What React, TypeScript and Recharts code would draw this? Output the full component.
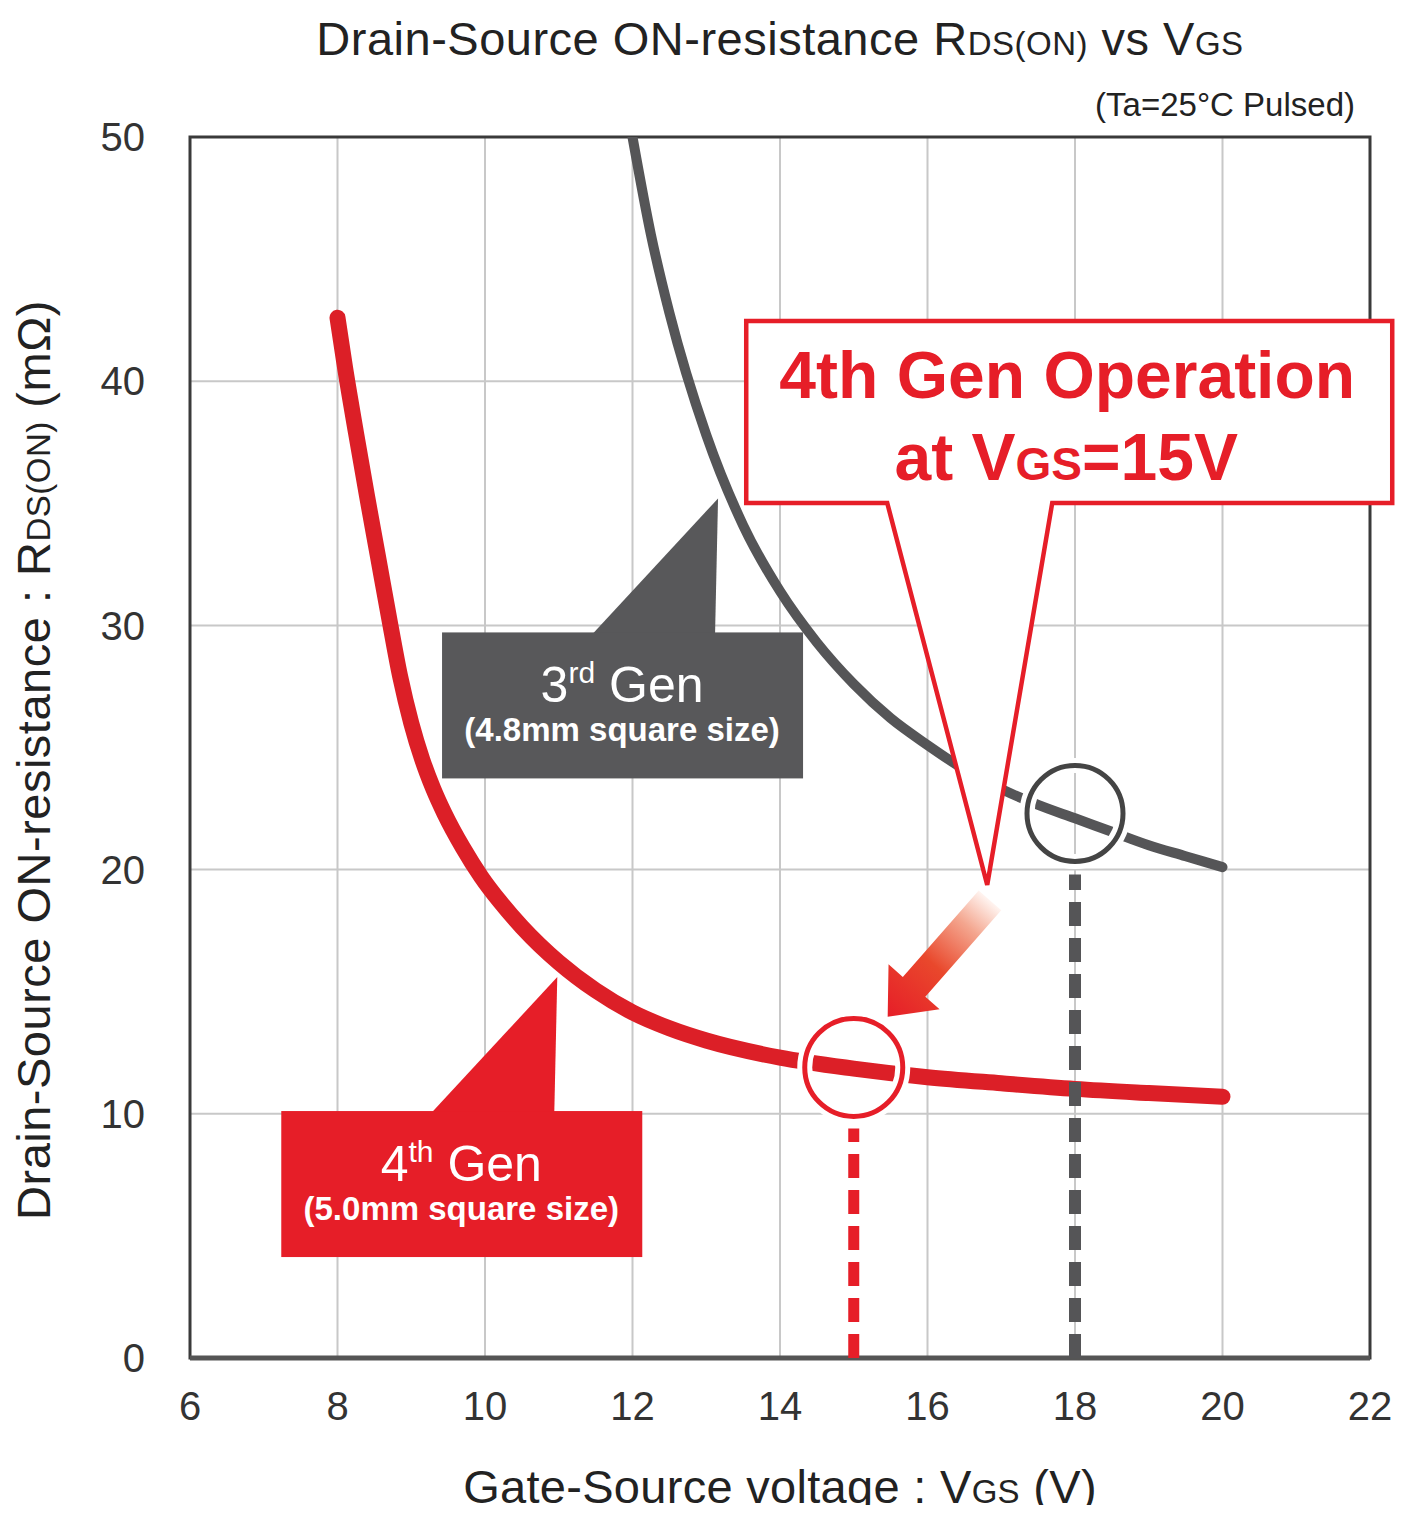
import React from "react";
import {
  LineChart,
  Line,
  XAxis,
  YAxis,
  CartesianGrid,
  ReferenceArea,
  ReferenceLine,
  ReferenceDot,
} from "recharts";

const FONT = '"Liberation Sans", Arial, Helvetica, sans-serif';
const RED = "#e61e28";
const GRAY = "#555557";

const X_TICKS = [6, 8, 10, 12, 14, 16, 18, 20, 22];
const Y_TICKS = [0, 10, 20, 30, 40, 50];

// 4th Gen (5.0mm square size)
const GEN4_VGS = [8, 8.1, 8.25, 8.4, 8.55, 8.7, 8.85, 9.0, 9.15, 9.3, 9.45, 9.7, 9.95, 10.2, 10.5, 11, 11.5, 12, 12.5, 13, 14, 15, 16, 17, 18, 19, 20];
const GEN4_RDS = [42.6, 40.6, 37.9, 35.3, 32.8, 30.3, 27.9, 26.0, 24.5, 23.3, 22.3, 20.9, 19.7, 18.7, 17.65, 16.2, 15.05, 14.15, 13.5, 13.0, 12.3, 11.85, 11.5, 11.25, 11.02, 10.85, 10.7];

// 3rd Gen (4.8mm square size)
const GEN3_VGS = [12, 12.25, 12.5, 13, 13.5, 14, 14.5, 15, 15.5, 16, 16.5, 17, 17.5, 18, 18.5, 19, 19.5, 20];
const GEN3_RDS = [50, 46.0, 42.8, 37.8, 34.1, 31.4, 29.3, 27.6, 26.2, 25.1, 24.1, 23.3, 22.65, 22.1, 21.55, 21.0, 20.55, 20.1];

// operating points
const OP_4TH = { v: 15, r: 11.9 };
const OP_3RD = { v: 18, r: 22.3 };

// where the callout pointers touch
const TIP_3RD = { v: 13.16, r: 35.2 };
const TIP_4TH = { v: 10.98, r: 15.6 };
const TIP_OP = { v: 16.81, r: 19.37 };
const TIP_ARROW = { v: 15.46, r: 13.97 };

const gen4 = GEN4_VGS.map((v, i) => ({ v, r: GEN4_RDS[i] }));
const gen3 = GEN3_VGS.map((v, i) => ({ v, r: GEN3_RDS[i] }));

type Pt = { cx?: number; cy?: number };

function TagCallout({ cx = 0, cy = 0, fill, num, sup, size }: Pt & { fill: string; num: string; sup: string; size: string }) {
  return (
    <g>
      <polygon points={`${cx},${cy} ${cx - 126},${cy + 136} ${cx - 3},${cy + 136}`} fill={fill} />
      <rect x={cx - 276} y={cy + 134} width={361} height={146} fill={fill} />
      <text x={cx - 96} y={cy + 204} textAnchor="middle" fill="#fff" fontFamily={FONT} fontSize={50}>
        {num}
        <tspan fontSize={30} dy={-19}>{sup}</tspan>
        <tspan dy={19}>{" Gen"}</tspan>
      </text>
      <text x={cx - 96} y={cy + 243} textAnchor="middle" fill="#fff" fontFamily={FONT} fontSize={33} fontWeight="bold">
        {size}
      </text>
    </g>
  );
}

function OperationCallout({ cx = 0, cy = 0 }: Pt) {
  const L = cx - 241;
  const R = cx + 405;
  const T = cy - 564;
  const B = cy - 382;
  const pts = [
    [L, T], [R, T], [R, B], [cx + 65, B], [cx, cy], [cx - 100, B], [L, B],
  ].map((p) => p.join(",")).join(" ");
  return (
    <g>
      <polygon points={pts} fill="#fff" stroke={RED} strokeWidth={4.5} />
      <text x={cx + 80} y={cy - 487} textAnchor="middle" fill={RED} fontFamily={FONT} fontSize={66} fontWeight="bold">
        4th Gen Operation
      </text>
      <text x={cx + 79} y={cy - 405} textAnchor="middle" fill={RED} fontFamily={FONT} fontSize={66} fontWeight="bold">
        at V<tspan fontSize={46}>GS</tspan>=15V
      </text>
    </g>
  );
}

function Ring({ cx = 0, cy = 0, color, r }: Pt & { color: string; r: number }) {
  return (
    <g>
      <circle cx={cx} cy={cy} r={r} fill="none" stroke="#fff" strokeWidth={15} />
      <circle cx={cx} cy={cy} r={r} fill="none" stroke={color} strokeWidth={5} />
    </g>
  );
}

function FadeArrow({ cx = 0, cy = 0 }: Pt) {
  const ux = 0.66, uy = -0.751, px = 0.751, py = 0.66;
  const head = 40, headHalf = 34, shaftHalf = 15, len = 155;
  const pt = (a: number, b: number) => [cx + ux * a + px * b, cy + uy * a + py * b];
  const poly = [
    pt(0, 0), pt(head, -headHalf), pt(head, -shaftHalf), pt(len, -shaftHalf),
    pt(len, shaftHalf), pt(head, shaftHalf), pt(head, headHalf),
  ].map((p) => p.join(",")).join(" ");
  const [tx, ty] = pt(len, 0);
  return (
    <g>
      <defs>
        <linearGradient id="arrowFade" gradientUnits="userSpaceOnUse" x1={tx} y1={ty} x2={cx} y2={cy}>
          <stop offset="0" stopColor="#fff4f0" />
          <stop offset="0.22" stopColor="#f4a68f" />
          <stop offset="0.55" stopColor="#e9482c" />
          <stop offset="1" stopColor={RED} />
        </linearGradient>
      </defs>
      <polygon points={poly} fill="url(#arrowFade)" />
    </g>
  );
}

export default function App() {
  return (
    <div style={{ margin: -8, width: 1404, height: 1513, position: "relative", background: "#fff" }}>
      <LineChart width={1404} height={1513} margin={{ top: 137, right: 34, bottom: 95, left: 90 }}>
        <CartesianGrid stroke="#c8c8c8" strokeWidth={2} />
        <XAxis
          type="number"
          dataKey="v"
          domain={[6, 22]}
          ticks={X_TICKS}
          height={60}
          axisLine={false}
          tickLine={false}
          tickSize={0}
          tickMargin={34}
          tick={{ fill: "#333", fontSize: 40, fontFamily: FONT }}
          allowDataOverflow
        />
        <YAxis
          type="number"
          domain={[0, 50]}
          ticks={Y_TICKS}
          width={100}
          axisLine={false}
          tickLine={false}
          tickSize={0}
          tickMargin={45}
          tick={{ fill: "#333", fontSize: 40, fontFamily: FONT }}
          allowDataOverflow
        />
        <ReferenceArea x1={6} x2={22} y1={0} y2={50} fill="none" stroke="#3a3a3a" strokeWidth={3} />
        <ReferenceLine y={0} stroke="#555" strokeWidth={5} />

        <Line data={gen3} dataKey="r" type="monotone" stroke={GRAY} strokeWidth={10} strokeLinecap="round" dot={false} activeDot={false} isAnimationActive={false} />
        <Line data={gen4} dataKey="r" type="monotone" stroke="#dc1f27" strokeWidth={16} strokeLinecap="round" dot={false} activeDot={false} isAnimationActive={false} />

        <ReferenceLine segment={[{ x: OP_3RD.v, y: 0 }, { x: OP_3RD.v, y: 19.8 }]} stroke={GRAY} strokeWidth={12} strokeDasharray="24 12" zIndex={2500} />
        <ReferenceLine segment={[{ x: OP_4TH.v, y: 0 }, { x: OP_4TH.v, y: 9.4 }]} stroke={RED} strokeWidth={11} strokeDasharray="24 12" zIndex={2500} />

        <ReferenceDot x={OP_3RD.v} y={OP_3RD.r} zIndex={2600} shape={(p: any) => <Ring cx={p.cx} cy={p.cy} r={48} color="#444" />} />
        <ReferenceDot x={OP_4TH.v} y={OP_4TH.r} zIndex={2600} shape={(p: any) => <Ring cx={p.cx} cy={p.cy} r={49} color={RED} />} />

        <ReferenceDot x={TIP_3RD.v} y={TIP_3RD.r} zIndex={2600} shape={(p: any) => <TagCallout cx={p.cx} cy={p.cy} fill="#58585a" num="3" sup="rd" size="(4.8mm square size)" />} />
        <ReferenceDot x={TIP_4TH.v} y={TIP_4TH.r} zIndex={2600} shape={(p: any) => <TagCallout cx={p.cx} cy={p.cy} fill={RED} num="4" sup="th" size="(5.0mm square size)" />} />
        <ReferenceDot x={TIP_OP.v} y={TIP_OP.r} zIndex={2700} shape={(p: any) => <OperationCallout cx={p.cx} cy={p.cy} />} />
        <ReferenceDot x={TIP_ARROW.v} y={TIP_ARROW.r} zIndex={2700} shape={(p: any) => <FadeArrow cx={p.cx} cy={p.cy} />} />
      </LineChart>

      <svg width={1404} height={1513} style={{ position: "absolute", left: 0, top: 0, pointerEvents: "none" }}>
        <text x={780} y={55} textAnchor="middle" fill="#222" fontFamily={FONT} fontSize={47} letterSpacing={0.5}>
          Drain-Source ON-resistance R<tspan fontSize={33}>DS(ON)</tspan> vs V<tspan fontSize={33}>GS</tspan>
        </text>
        <text x={1355} y={116} textAnchor="end" fill="#222" fontFamily={FONT} fontSize={33}>
          (Ta=25°C Pulsed)
        </text>
        <text x={780} y={1503} textAnchor="middle" fill="#222" fontFamily={FONT} fontSize={47} letterSpacing={0.3}>
          Gate-Source voltage : V<tspan fontSize={33}>GS</tspan> (V)
        </text>
        <text x={50} y={760} transform="rotate(-90 50 760)" textAnchor="middle" fill="#222" fontFamily={FONT} fontSize={47} letterSpacing={0.5}>
          Drain-Source ON-resistance : R<tspan fontSize={33}>DS(ON)</tspan> (mΩ)
        </text>
      </svg>
    </div>
  );
}
